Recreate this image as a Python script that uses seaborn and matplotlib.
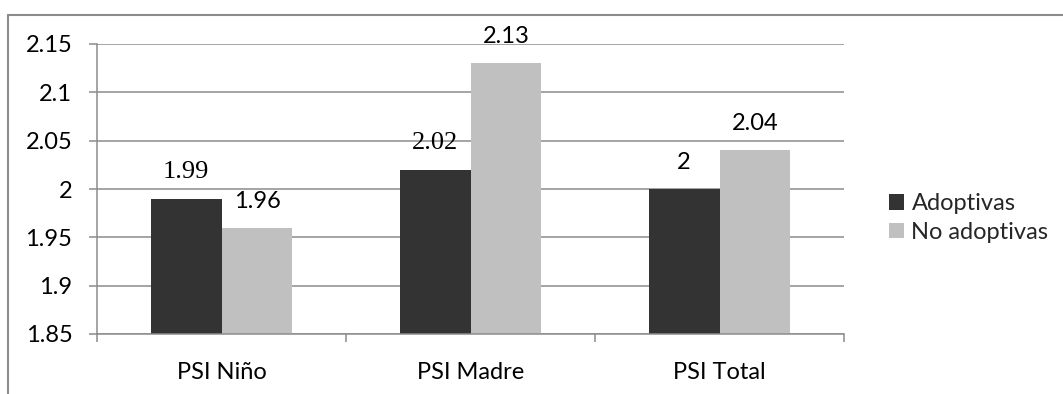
import matplotlib
matplotlib.use("Agg")
import matplotlib.pyplot as plt
from matplotlib.lines import Line2D
import seaborn as sns
import pandas as pd

# Scores by scale and group
categories = ["PSI Niño", "PSI Madre", "PSI Total"]
groups = ["Adoptivas", "No adoptivas"]
adoptivas = [1.99, 2.02, 2.00]
no_adoptivas = [1.96, 2.13, 2.04]
value_labels_adopt = ["1.99", "2.02", "2"]
value_labels_no = ["1.96", "2.13", "2.04"]
y_ticks = [1.85, 1.90, 1.95, 2.00, 2.05, 2.10, 2.15]
y_tick_labels = ["1.85", "1.9", "1.95", "2", "2.05", "2.1", "2.15"]

df = pd.DataFrame({
    "escala": categories * 2,
    "grupo": [groups[0]] * 3 + [groups[1]] * 3,
    "valor": adoptivas + no_adoptivas,
    "etiqueta": value_labels_adopt + value_labels_no,
})

sns.set_theme(style="white")
plt.rcParams["font.family"] = ["Lato", "DejaVu Sans"]

W, H = 1063, 394
fig = plt.figure(figsize=(W / 100, H / 100), dpi=100)
ax = fig.add_axes([97 / W, 60 / H, (844 - 97) / W, (334 - 44) / H])

dark, light = "#333333", "#C0C0C0"
grid_c = "#8C8C8C"

sns.barplot(data=df, x="escala", y="valor", hue="grupo", hue_order=groups,
            palette=[dark, light], width=0.57, gap=0, ax=ax,
            saturation=1, edgecolor="none", linewidth=0, legend=True)

ax.set_ylim(1.85, 2.15)
ax.set_xlim(-0.5, 2.5)
ax.set_yticks(y_ticks, y_tick_labels)
ax.set_xlabel("")
ax.set_ylabel("")

# horizontal gridlines
ax.yaxis.grid(True, color=grid_c, linewidth=1.1)
ax.set_axisbelow(True)

for s in ["top", "right"]:
    ax.spines[s].set_visible(False)
for s in ["left", "bottom"]:
    ax.spines[s].set_color(grid_c)
    ax.spines[s].set_linewidth(1.1)

ax.tick_params(axis="y", which="major", left=True, length=5.8, width=1.1,
               color=grid_c, pad=12, labelsize=17, labelcolor="black")
ax.tick_params(axis="x", which="major", bottom=False, length=0, pad=20,
               labelsize=17, labelcolor="black")
ax.set_xticks([-0.5, 0.5, 1.5, 2.5], minor=True)
ax.tick_params(axis="x", which="minor", bottom=True, length=5.8, width=1.1,
               color=grid_c, direction="out")

# value labels above each bar
serif_labels = {"1.99", "2.02"}
for container, labels in zip(ax.containers, [value_labels_adopt, value_labels_no]):
    for bar, lab in zip(container, labels):
        x = bar.get_x() + bar.get_width() / 2
        y = bar.get_height() + bar.get_y()
        if lab in serif_labels:
            fam, size = ["Liberation Serif", "DejaVu Serif"], 19
        else:
            fam, size = ["Lato", "DejaVu Sans"], 17
        ax.annotate(lab, (x, y), xytext=(0, 19), textcoords="offset points",
                    ha="center", va="center", fontsize=size,
                    family=fam, color="black", annotation_clip=False)

leg = ax.legend(loc="center left", bbox_to_anchor=(889 / W, 1 - 218 / H),
                bbox_transform=fig.transFigure, frameon=False, fontsize=17,
                handlelength=0.65, handleheight=0.65, handletextpad=0.3,
                borderpad=0, borderaxespad=0, labelspacing=0.32)

# outer chart frame
frame_kw = dict(color="#8C8C8C", linewidth=1.5, transform=fig.transFigure)
fig.add_artist(Line2D([8 / W, 1.0], [1 - 15 / H, 1 - 15 / H], **frame_kw))
fig.add_artist(Line2D([8 / W, 8 / W], [0, 1 - 15 / H], **frame_kw))

fig.savefig("out.png", dpi=100, facecolor="white")
